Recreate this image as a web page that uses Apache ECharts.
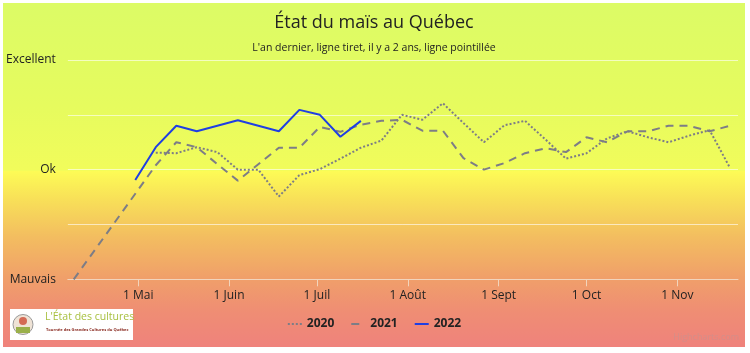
<!DOCTYPE html>
<html><head><meta charset="utf-8">
<script src="https://cdn.jsdelivr.net/npm/echarts@6/dist/echarts.min.js"></script>
<style>html,body{margin:0;padding:0;background:#fff;width:750px;height:353px;overflow:hidden}
#c{position:absolute;left:3px;top:3px;width:742px;height:344px}</style>
</head><body><div id="c"></div>
<script>
// ---- data ----
const tickDates = ['05-01','06-01','07-01','08-01','09-01','10-01','11-01'];
const tickLabels = ['1 Mai','1 Juin','1 Juil','1 Août','1 Sept','1 Oct','1 Nov'];
const yLabels = ['Mauvais','','Ok','','Excellent'];

const dates2020 = ['05-07','05-14','05-21','05-28','06-04','06-11','06-18','06-25','07-02','07-09','07-16','07-23','07-30','08-06','08-13','08-20','08-27','09-03','09-10','09-17','09-24','10-01','10-08','10-15','10-22','10-29','11-05','11-12','11-19'];
const values2020 = [2.31,2.30,2.41,2.32,2.0,2.0,1.51,1.90,2.01,2.2,2.4,2.53,3.0,2.91,3.21,2.85,2.50,2.81,2.89,2.55,2.20,2.30,2.57,2.70,2.59,2.50,2.62,2.72,2.03];

const dates2021 = ['04-09','05-07','05-14','05-21','05-28','06-04','06-11','06-18','06-25','07-02','07-09','07-16','07-23','07-30','08-06','08-13','08-20','08-27','09-03','09-10','09-17','09-24','10-01','10-08','10-15','10-22','10-29','11-05','11-12','11-19'];
const values2021 = [0,2.08,2.50,2.41,2.1,1.80,2.1,2.40,2.40,2.78,2.69,2.82,2.89,2.91,2.71,2.71,2.21,2.0,2.12,2.30,2.39,2.32,2.59,2.50,2.70,2.70,2.80,2.80,2.70,2.80];

const dates2022 = ['04-30','05-07','05-14','05-21','06-04','06-18','06-25','07-02','07-09','07-16'];
const values2022 = [1.81,2.41,2.80,2.70,2.90,2.70,3.09,3.00,2.60,2.89];

// ---- helpers ----
function dayOf(s){const p=s.split('-').map(Number);return (Date.UTC(2022,p[0]-1,p[1])-Date.UTC(2022,0,1))/86400000;}
function pairs(ds,vs){return ds.map((d,i)=>[dayOf(d),vs[i]]);}
const tickDays = tickDates.map(dayOf);
const labelMap = {}; tickDays.forEach((d,i)=>labelMap[d]=tickLabels[i]);

const FONT = '"Open Sans", sans-serif';
const chart = echarts.init(document.getElementById('c'), null, {renderer:'canvas'});
chart.setOption({
  animation:false,
  backgroundColor: new echarts.graphic.LinearGradient(0,0,0,1,[
    {offset:0,color:'#dcfb66'},
    {offset:0.3,color:'#e6fb5e'},
    {offset:0.486,color:'#f1fc5b'},
    {offset:0.49,color:'#fdfb56'},
    {offset:0.57,color:'#f8e058'},
    {offset:0.68,color:'#f3bd60'},
    {offset:0.8,color:'#f09f6a'},
    {offset:0.9,color:'#ef8d74'},
    {offset:1,color:'#ef827c'}
  ]),
  title:[
    {text:'État du maïs au Québec',left:'center',top:6,textStyle:{fontFamily:FONT,fontSize:18,fontWeight:'normal',color:'#222'}},
    {text:"L'an dernier, ligne tiret, il y a 2 ans, ligne pointillée",left:'center',top:35,textStyle:{fontFamily:FONT,fontSize:10.5,fontWeight:'normal',color:'#222'}}
  ],
  grid:{left:64,top:57,width:671,height:219.3},
  legend:{
    bottom:12,left:'center',itemWidth:14,itemHeight:10,itemGap:16,
    itemStyle:{opacity:0},
    textStyle:{fontFamily:FONT,fontSize:12,fontWeight:'bold',color:'#222'},
    data:['2020','2021','2022']
  },
  xAxis:{
    type:'value',min:96,max:324.7,
    axisLine:{show:true,lineStyle:{color:'#f2d4bc',width:1}},
    axisTick:{show:true,customValues:tickDays,length:7,lineStyle:{color:'#f2d4bc'}},
    axisLabel:{customValues:tickDays,formatter:v=>labelMap[v]||'',margin:10,fontFamily:FONT,fontSize:12,color:'#222'},
    splitLine:{show:false}
  },
  yAxis:{
    type:'value',min:0,max:4,interval:1,
    axisLine:{show:false},axisTick:{show:false},
    axisLabel:{formatter:v=>yLabels[v]||'',margin:12,fontFamily:FONT,fontSize:12,color:'#222'},
    splitLine:{show:true,lineStyle:{color:'rgba(255,255,255,0.6)',width:1}}
  },
  series:[
    {name:'2020',type:'line',data:pairs(dates2020,values2020),symbol:'none',color:'#7d7d86',lineStyle:{width:2,type:[2,2],color:'#7d7d86'}},
    {name:'2021',type:'line',data:pairs(dates2021,values2021),symbol:'none',color:'#7d7d86',lineStyle:{width:2,type:[8,6],color:'#7d7d86'}},
    {name:'2022',type:'line',data:pairs(dates2022,values2022),symbol:'none',color:'#1f3fe3',lineStyle:{width:2,type:'solid',color:'#1f3fe3'}}
  ],
  graphic:[
    {type:'rect',left:7,top:306,shape:{width:123,height:31},style:{fill:'#fff'}},
    {type:'circle',shape:{cx:20,cy:321.5,r:10},style:{fill:'#efe3d6',stroke:'#9a9a9a',lineWidth:1}},
    {type:'rect',shape:{x:13,y:324,width:14,height:6},style:{fill:'#9ab04a'}},
    {type:'circle',shape:{cx:20,cy:318,r:4},style:{fill:'#d46a55'}},
    {type:'text',left:42,top:309,style:{text:"L'État des cultures",font:'10.5px "Open Sans", sans-serif',fill:'#a8c040'}},
    {type:'text',left:43,top:325,style:{text:'Tournée des Grandes Cultures du Québec',font:'bold 4px "Open Sans", sans-serif',fill:'#8a2a20'}},
    {type:'text',right:6,bottom:5,style:{text:'Highcharts.com',font:'9px "Open Sans", sans-serif',fill:'rgba(190,150,150,0.55)'}}
  ]
});
</script></body></html>
